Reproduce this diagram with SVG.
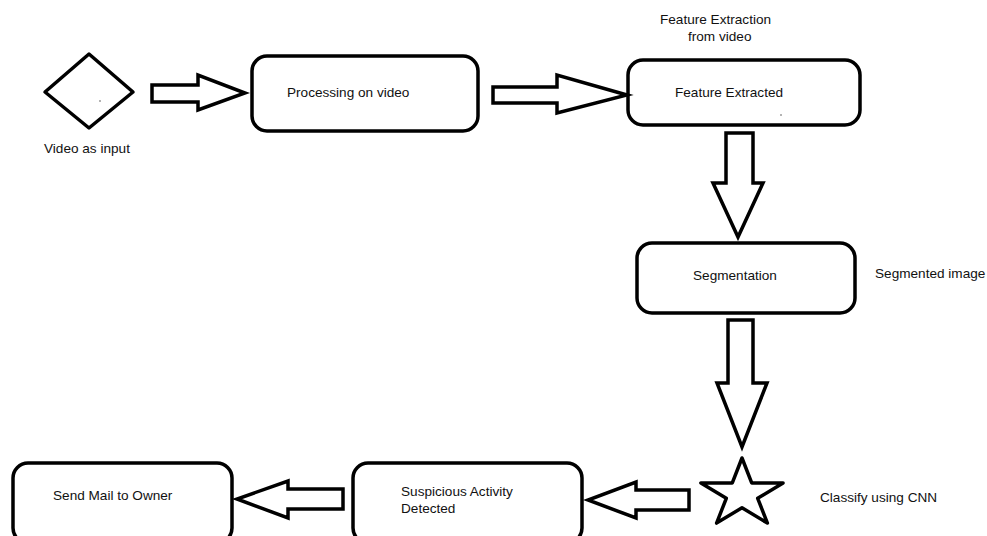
<svg xmlns="http://www.w3.org/2000/svg" width="987" height="536" viewBox="0 0 987 536">
<style>
.shape{fill:#fff;stroke:#000;stroke-width:3.5;stroke-linejoin:round}
.arrow{fill:#fff;stroke:#000;stroke-width:3.5;stroke-linejoin:miter}
.t{font-family:"Liberation Sans",Arial,sans-serif;font-size:13.6px;fill:#111}
.dot{fill:#555}
</style>
<rect width="987" height="536" fill="#fff"/>
<g id="node-video-input">
<polygon class="shape" points="89,54 133,92 89,128 45,92"/>
<circle class="dot" cx="100" cy="101" r="0.8"/>
<text class="t" x="44" y="153">Video as input</text>
</g>
<g id="node-processing">
<rect class="shape" x="252" y="56" width="226" height="75" rx="15"/>
<text class="t" x="287" y="97">Processing on video</text>
</g>
<g id="node-feature-extracted">
<rect class="shape" x="628" y="60" width="232" height="65" rx="15"/>
<text class="t" x="675" y="97">Feature Extracted</text>
<circle class="dot" cx="781" cy="115" r="0.8"/>
<text class="t" x="660" y="24">Feature Extraction</text>
<text class="t" x="688" y="41">from video</text>
</g>
<g id="node-segmentation">
<rect class="shape" x="637" y="243" width="218" height="70" rx="15"/>
<text class="t" x="693" y="280">Segmentation</text>
<text class="t" x="875" y="278">Segmented image</text>
</g>
<g id="node-classify">
<polygon class="shape" points="742,458 751.7,482.9 783.1,482.9 757.7,498.3 767.4,523.1 742,507.8 716.6,523.1 726.3,498.3 700.9,482.9 732.3,482.9"/>
<text class="t" x="820" y="502">Classify using CNN</text>
</g>
<g id="node-suspicious">
<rect class="shape" x="353" y="463" width="229" height="80" rx="15"/>
<text class="t" x="401" y="496">Suspicious Activity</text>
<text class="t" x="401" y="513">Detected</text>
</g>
<g id="node-send-mail">
<rect class="shape" x="13" y="463" width="219" height="80" rx="15"/>
<text class="t" x="53" y="500">Send Mail to Owner</text>
</g>
<g id="connectors">
<polygon class="arrow" points="152,85 198,85 198,75 245,93 198,110 198,102 152,102"/>
<polygon class="arrow" points="493,87 557,87 557,75 627,95 557,113 557,103 493,103"/>
<polygon class="arrow" points="726,133 753,133 753,183 763,183 738,237 713,183 726,183"/>
<polygon class="arrow" points="728,320 753,320 753,383 767,383 742,447 717,383 728,383"/>
<polygon class="arrow" points="689,490 636,490 636,482 588,500 636,518 636,510 689,510"/>
<polygon class="arrow" points="343,489 288,489 288,481 237,499 288,518 288,509 343,509"/>
</g>
</svg>
